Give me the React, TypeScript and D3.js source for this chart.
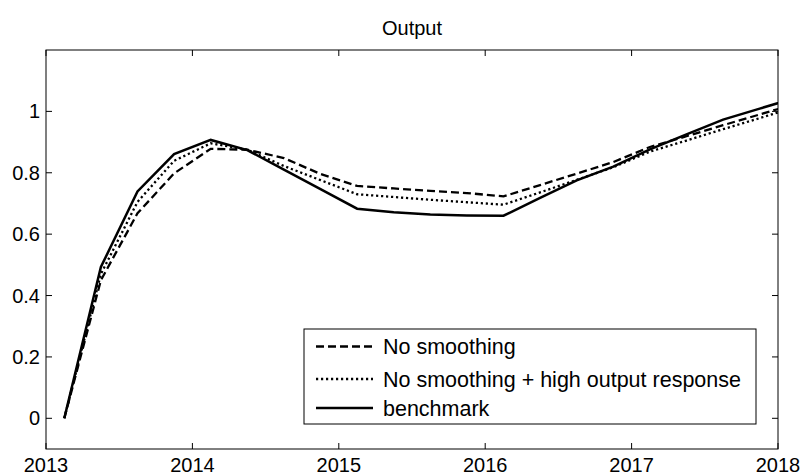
import React from "react";
import * as d3 from "d3";

const dates = [
  2013.125, 2013.375, 2013.625, 2013.875, 2014.125, 2014.375, 2014.625, 2014.875,
  2015.125, 2015.375, 2015.625, 2015.875, 2016.125, 2016.375, 2016.625, 2016.875,
  2017.125, 2017.375, 2017.625, 2017.875, 2018.125,
];

const noSmoothing = [
  0, 0.45, 0.668, 0.798, 0.878, 0.875, 0.848, 0.796,
  0.757, 0.749, 0.741, 0.734, 0.723, 0.76, 0.797, 0.835,
  0.884, 0.919, 0.955, 0.99, 1.025,
];

const highResponse = [
  0, 0.47, 0.705, 0.839, 0.896, 0.875, 0.822, 0.776,
  0.73, 0.721, 0.712, 0.704, 0.696, 0.736, 0.777, 0.818,
  0.869, 0.905, 0.942, 0.978, 1.015,
];

const benchmark = [
  0, 0.493, 0.739, 0.861, 0.907, 0.874, 0.81, 0.747,
  0.683, 0.671, 0.664, 0.661, 0.66, 0.718, 0.775, 0.82,
  0.876, 0.925, 0.973, 1.009, 1.045,
];

const xTicks = [2013, 2014, 2015, 2016, 2017, 2018];
const yTicks = [0, 0.2, 0.4, 0.6, 0.8, 1];
const seriesNames = ["No smoothing", "No smoothing + high output response", "benchmark"];
const title = "Output";

const W = 804;
const H = 475;
const L = 46, R = 778, T = 50, B = 449;
const FONT = "Arial, 'Liberation Sans', Helvetica, sans-serif";

export default function App() {
  const x = d3.scaleLinear().domain([2013, 2018]).range([L, R]);
  const y = d3.scaleLinear().domain([-0.1, 1.2]).range([B, T]);
  const line = d3
    .line<[number, number]>()
    .x((d) => x(d[0]))
    .y((d) => y(d[1]));

  const series = [
    { name: seriesNames[0], values: noSmoothing, dash: "8,4", width: 2.3 },
    { name: seriesNames[1], values: highResponse, dash: "2.2,2.8", width: 2.3 },
    { name: seriesNames[2], values: benchmark, dash: "none", width: 2.5 },
  ];

  const tickLen = 6;
  const legX = 304, legY = 329, legW = 452, legH = 95;
  const rowY = [346.5, 379, 408];

  return (
    <div style={{ position: "absolute", left: 0, top: 0 }}>
      <svg width={W} height={H} style={{ display: "block", background: "#fff" }}>
        <defs>
          <clipPath id="plotclip">
            <rect x={L} y={T} width={R - L} height={B - T} />
          </clipPath>
        </defs>
        <rect x={0} y={0} width={W} height={H} fill="#fff" />
        {series.map((s) => (
          <path
            key={s.name}
            d={line(dates.map((d, i) => [d, s.values[i]] as [number, number])) || ""}
            fill="none"
            stroke="#000"
            strokeWidth={s.width}
            strokeDasharray={s.dash}
            clipPath="url(#plotclip)"
          />
        ))}
        <rect x={L} y={T} width={R - L} height={B - T} fill="none" stroke="#000" strokeWidth={1} />
        {xTicks.map((t) => (
          <g key={"x" + t}>
            <line x1={x(t)} x2={x(t)} y1={B} y2={B - tickLen} stroke="#000" />
            <line x1={x(t)} x2={x(t)} y1={T} y2={T + tickLen} stroke="#000" />
            <text x={x(t)} y={471.5} textAnchor="middle" fontFamily={FONT} fontSize={20}>
              {t}
            </text>
          </g>
        ))}
        {yTicks.map((t) => (
          <g key={"y" + t}>
            <line x1={L} x2={L + tickLen} y1={y(t)} y2={y(t)} stroke="#000" />
            <line x1={R} x2={R - tickLen} y1={y(t)} y2={y(t)} stroke="#000" />
            <text x={40} y={y(t) + 7} textAnchor="end" fontFamily={FONT} fontSize={20}>
              {String(t)}
            </text>
          </g>
        ))}
        <text x={(L + R) / 2} y={35} textAnchor="middle" fontFamily={FONT} fontSize={20}>
          {title}
        </text>
        <rect x={legX} y={legY} width={legW} height={legH} fill="#fff" stroke="#000" strokeWidth={1} />
        {series.map((s, i) => (
          <g key={"leg" + i}>
            <line
              x1={316}
              x2={373}
              y1={rowY[i]}
              y2={rowY[i]}
              stroke="#000"
              strokeWidth={s.width}
              strokeDasharray={s.dash}
            />
            <text x={383} y={rowY[i] + 7.5} fontFamily={FONT} fontSize={21.5}>
              {s.name}
            </text>
          </g>
        ))}
      </svg>
    </div>
  );
}
